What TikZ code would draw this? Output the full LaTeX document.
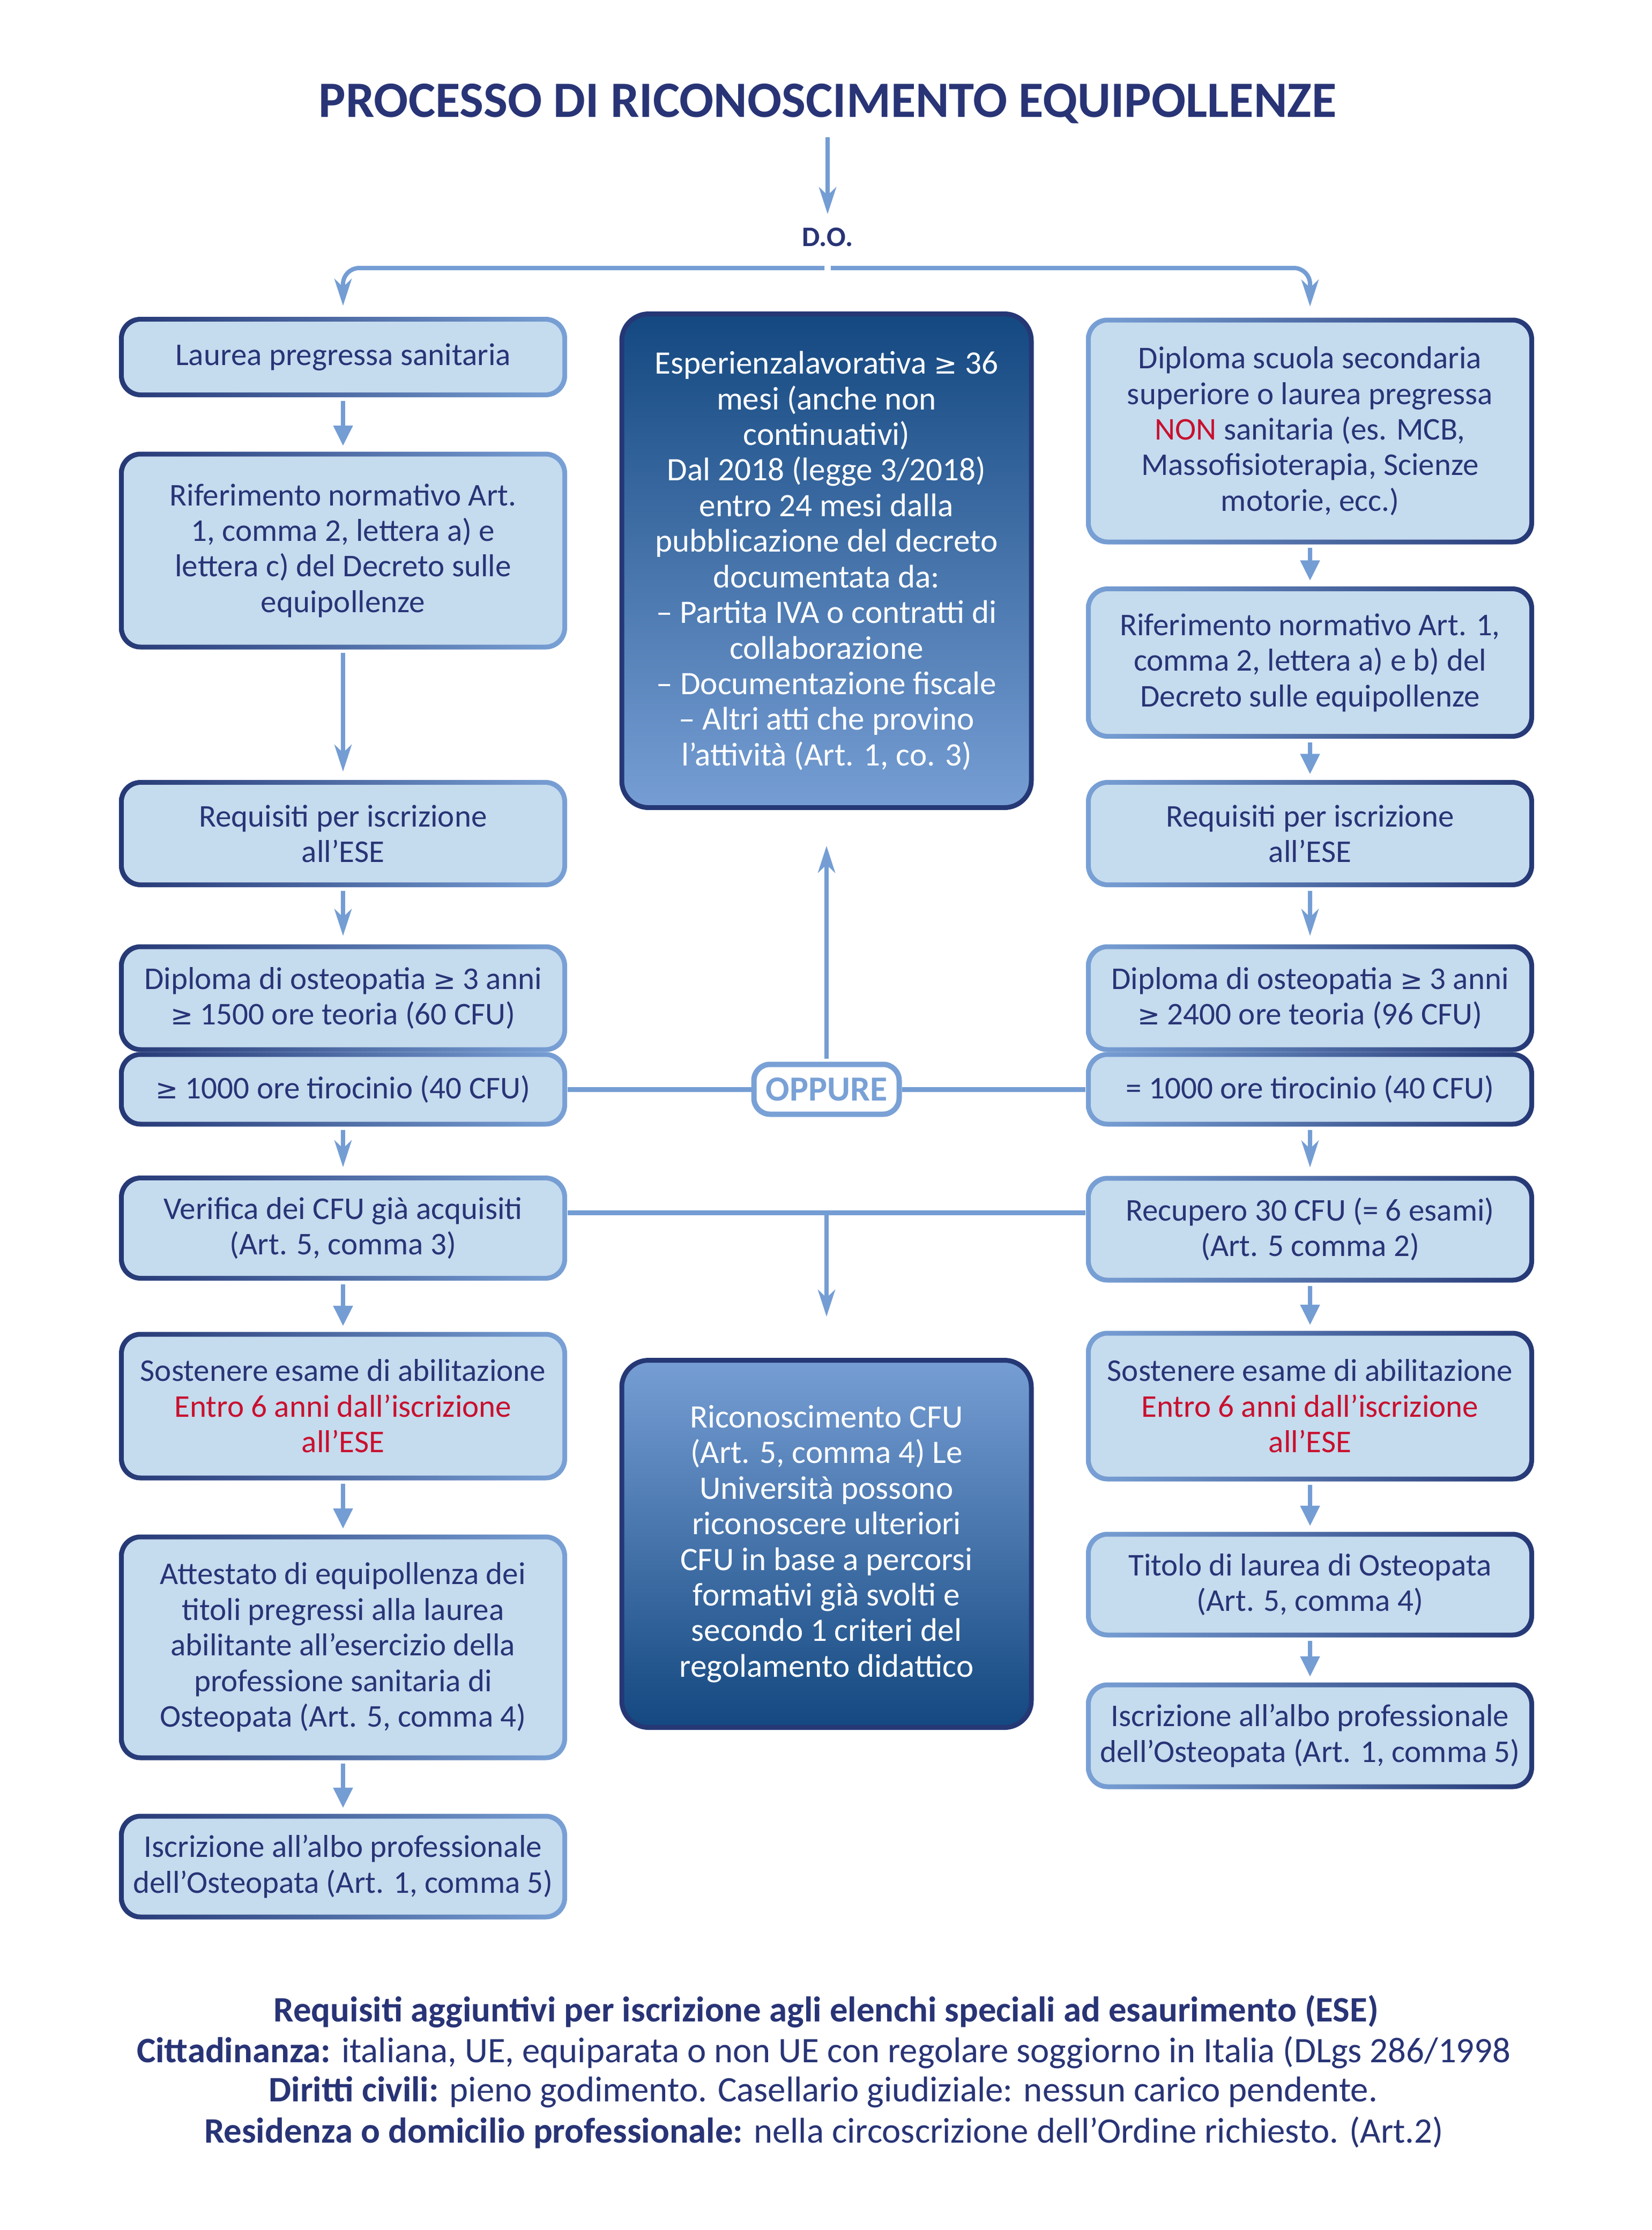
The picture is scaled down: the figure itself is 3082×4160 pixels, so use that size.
\documentclass[tikz,border=0pt]{standalone}
\usepackage{fontspec}
\setmainfont{Carlito}
\newfontfamily\symfont{DejaVu Sans}[Scale=0.85]
\usepackage{tikz}
\usetikzlibrary{arrows.meta}
\definecolor{navy}{RGB}{40,52,118}
\definecolor{bordk}{RGB}{37,56,117}
\definecolor{borlt}{RGB}{121,161,214}
\definecolor{boxin}{RGB}{197,219,238}
\definecolor{arrc}{RGB}{116,157,212}
\definecolor{redt}{RGB}{200,16,46}
\definecolor{cdk}{RGB}{20,72,128}
\definecolor{clt}{RGB}{118,158,212}
\newcommand{\gq}{{\symfont ≥}}
\newcommand{\rd}[1]{{\color{redt}#1}}

\begin{document}
\begin{tikzpicture}[x=0.1mm,y=-0.1mm,
  boxbase/.style={rounded corners=4mm, minimum width=83.6mm, align=center, text=navy, inner sep=0pt,
    font=\fontsize{16.8}{18.9}\selectfont,
    path picture={\fill[boxin, rounded corners=3.2mm] ([shift={(0.9mm,-0.9mm)}]path picture bounding box.north west) rectangle ([shift={(-0.9mm,0.9mm)}]path picture bounding box.south east);}},
  lbox/.style={boxbase, left color=bordk, right color=borlt},
  rbox/.style={boxbase, left color=borlt, right color=bordk},
  cbox/.style={rounded corners=5mm, draw=bordk, line width=0.9mm, minimum width=76.4mm, align=center, text=white,
    font=\fontsize{17.4}{18.9}\selectfont},
  opp/.style={draw=borlt, line width=1mm, fill=white, rounded corners=3mm, minimum width=27.1mm, minimum height=9.3mm,
    inner sep=0pt, text=borlt, font=\fontsize{18.7}{20}\selectfont\bfseries},
  foot/.style={text=navy, inner sep=0pt, font=\fontsize{19}{21}\selectfont},
  tri/.style={draw=arrc, line width=0.8mm, -{Triangle[width=3.5mm,length=3.8mm]}, shorten <=0.6mm, shorten >=1mm},
  stl/.style={draw=arrc, line width=0.8mm, -{Stealth[width=3.2mm,length=5mm,inset=1.5mm]}, shorten <=0.6mm, shorten >=1.5mm},
  lnk/.style={draw=arrc, line width=0.9mm}
]
\useasboundingbox[fill=white] (0,0) rectangle (3082,4160);

%Title
\node[text=navy, inner sep=0pt, text height=6.5mm, text depth=0pt, font=\fontsize{27}{32}\selectfont\bfseries] (title) at (1544,186) {PROCESSO DI RICONOSCIMENTO EQUIPOLLENZE};
\node[text=navy, inner sep=0pt, text height=4mm, text depth=0pt, font=\fontsize{15}{18}\selectfont\bfseries] (DO) at (1544,439) {D.O.};
\coordinate (bar) at (1544,500);

%Rounded Rect: left column
\node[lbox, minimum height=15mm] (laurea) at (640,666) {Laurea pregressa sanitaria};
\node[lbox, minimum height=36.9mm] (rifL) at (640,1027) {Riferimento normativo Art.\\1, comma 2, lettera a) e\\lettera c) del Decreto sulle\\equipollenze};
\node[lbox, minimum height=20mm] (reqL) at (640,1555) {Requisiti per iscrizione\\all’ESE};
\node[lbox, minimum height=20.1mm] (diplL) at (640,1862) {Diploma di osteopatia \gq{} 3 anni\\\gq{} 1500 ore teoria (60 CFU)};
\node[lbox, minimum height=13.9mm] (tirL) at (640,2032) {\gq{} 1000 ore tirocinio (40 CFU)};
\node[lbox, minimum height=19.6mm] (verif) at (640,2291) {Verifica dei CFU già acquisiti\\(Art. 5, comma 3)};
\node[lbox, minimum height=27.7mm] (esameL) at (640,2623) {Sostenere esame di abilitazione\\\rd{Entro 6 anni dall’iscrizione}\\\rd{all’ESE}};
\node[lbox, minimum height=42.1mm] (attest) at (640,3073) {Attestato di equipollenza dei\\titoli pregressi alla laurea\\abilitante all’esercizio della\\professione sanitaria di\\Osteopata (Art. 5, comma 4)};
\node[lbox, minimum height=19.7mm] (alboL) at (640,3482) {Iscrizione all’albo professionale\\dell’Osteopata (Art. 1, comma 5)};

%Rounded Rect: right column
\node[rbox, minimum height=42.3mm] (diploma) at (2444,804) {Diploma scuola secondaria\\superiore o laurea pregressa\\\rd{NON} sanitaria (es. MCB,\\Massofisioterapia, Scienze\\motorie, ecc.)};
\node[rbox, minimum height=28.4mm] (rifR) at (2444,1236) {Riferimento normativo Art. 1,\\comma 2, lettera a) e b) del\\Decreto sulle equipollenze};
\node[rbox, minimum height=20mm] (reqR) at (2444,1555) {Requisiti per iscrizione\\all’ESE};
\node[rbox, minimum height=20.1mm] (diplR) at (2444,1862) {Diploma di osteopatia \gq{} 3 anni\\\gq{} 2400 ore teoria (96 CFU)};
\node[rbox, minimum height=13.9mm] (tirR) at (2444,2032) {= 1000 ore tirocinio (40 CFU)};
\node[rbox, minimum height=19.9mm] (recup) at (2444,2293) {Recupero 30 CFU (= 6 esami)\\(Art. 5 comma 2)};
\node[rbox, minimum height=28.1mm] (esameR) at (2444,2623) {Sostenere esame di abilitazione\\\rd{Entro 6 anni dall’iscrizione}\\\rd{all’ESE}};
\node[rbox, minimum height=19.7mm] (titolo) at (2444,2956) {Titolo di laurea di Osteopata\\(Art. 5, comma 4)};
\node[rbox, minimum height=19.9mm] (alboR) at (2444,3238) {Iscrizione all’albo professionale\\dell’Osteopata (Art. 1, comma 5)};

%Rounded Rect: centre
\node[cbox, top color=cdk, bottom color=clt, minimum height=92.1mm] (esper) at (1542,1046) {Esperienzalavorativa \gq{} 36\\mesi (anche non\\continuativi)\\Dal 2018 (legge 3/2018)\\entro 24 mesi dalla\\pubblicazione del decreto\\documentata da:\\– Partita IVA o contratti di\\collaborazione\\– Documentazione fiscale\\– Altri atti che provino\\l’attività (Art. 1, co. 3)};
\node[cbox, top color=clt, bottom color=cdk, minimum height=68.5mm] (ricon) at (1542,2880) {Riconoscimento CFU\\(Art. 5, comma 4) Le\\Università possono\\riconoscere ulteriori\\CFU in base a percorsi\\formativi già svolti e\\secondo 1 criteri del\\regolamento didattico};
\node[opp] (oppure) at (1542,2032) {OPPURE};
\coordinate (join) at (1542,2262);

%Straight Lines
\draw[stl, shorten <=3.7mm, shorten >=1.9mm] (title.south) -- (DO.north);
\draw[stl, rounded corners=3mm, shorten >=2mm] (bar) -| (laurea.north);
\draw[stl, rounded corners=3mm, shorten >=2mm] (bar) -| (diploma.north);

\draw[tri] (laurea) -- (rifL);
\draw[stl] (rifL) -- (reqL);
\draw[stl] (reqL) -- (diplL);
\draw[stl] (tirL) -- (verif);
\draw[tri] (verif) -- (esameL);
\draw[tri] (esameL) -- (attest);
\draw[tri] (attest) -- (alboL);

\draw[tri] (diploma) -- (rifR);
\draw[tri] (rifR) -- (reqR);
\draw[stl] (reqR) -- (diplR);
\draw[stl] (tirR) -- (recup);
\draw[tri] (recup) -- (esameR);
\draw[tri] (esameR) -- (titolo);
\draw[tri] (titolo) -- (alboR);

\draw[lnk] (tirL) -- (oppure);
\draw[lnk] (oppure) -- (tirR);
\draw[stl, shorten >=6.7mm] (oppure) -- (esper);
\draw[lnk] (verif.east |- join) -- (recup.west |- join);
\draw[stl, shorten <=0pt, shorten >=7.7mm] (join) -- (ricon);

%Footer
\node[foot] (req) at (1541,3752) {\bfseries Requisiti aggiuntivi per iscrizione agli elenchi speciali ad esaurimento (ESE)};
\node[foot] (citt) at (1537,3829) {\textbf{Cittadinanza:} italiana, UE, equiparata o non UE con regolare soggiorno in Italia (DLgs 286/1998};
\node[foot] (dir) at (1536,3903) {\textbf{Diritti civili:} pieno godimento. Casellario giudiziale: nessun carico pendente.};
\node[foot] (res) at (1537,3978) {\textbf{Residenza o domicilio professionale:} nella circoscrizione dell’Ordine richiesto. (Art.2)};

\end{tikzpicture}
\end{document}
